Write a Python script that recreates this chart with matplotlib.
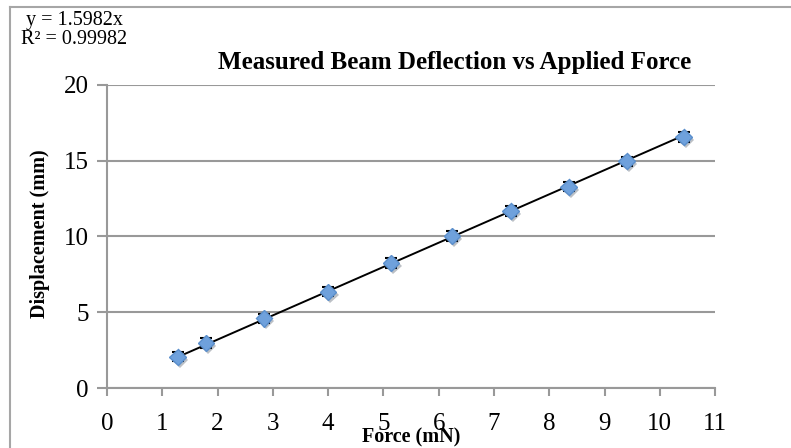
import matplotlib.pyplot as plt
import matplotlib.patheffects as pe
from matplotlib.lines import Line2D
import numpy as np

plt.rcParams["font.family"] = ["Liberation Serif", "DejaVu Serif"]

# measured force (mN) and beam displacement (mm)
force = [1.28, 1.79, 2.84, 4.00, 5.14, 6.24, 7.30, 8.35, 9.40, 10.43]
displacement = [2.05, 2.97, 4.60, 6.34, 8.25, 10.03, 11.68, 13.27, 14.98, 16.57]
disp_err = [0.3] * len(force)
slope = 1.5982
r_squared = 0.99982

fig = plt.figure(figsize=(7.91, 4.48), dpi=100)
ax = fig.add_axes([0.1353, 0.1339, 0.7687, 0.6764])

# outer chart frame
frame_col = "#a6a6a6"
fig.add_artist(Line2D([10 / 791, 1], [1 - 7 / 448, 1 - 7 / 448], transform=fig.transFigure,
                      color=frame_col, linewidth=1.5))
fig.add_artist(Line2D([10 / 791, 10 / 791], [0, 1 - 7 / 448], transform=fig.transFigure,
                      color=frame_col, linewidth=1.5))

# linear trendline through origin, over the data range
fx = np.array([min(force), max(force)])
ax.plot(fx, slope * fx, color="black", linewidth=1.4, zorder=3)

ax.errorbar(force, displacement, yerr=disp_err, fmt="none", ecolor="black",
            elinewidth=1.0, capsize=4, capthick=1.5, zorder=2)
ax.plot(force, displacement, linestyle="none", marker="D", markersize=8.5,
        markerfacecolor="#6fa1dc", markeredgecolor="#5b8fcc", zorder=4,
        path_effects=[pe.SimplePatchShadow(offset=(1.5, -2), alpha=0.3), pe.Normal()])

ax.set_xlim(0, 11)
ax.set_ylim(0, 20)
ax.set_xticks(np.arange(0, 12, 1))
ax.set_yticks(np.arange(0, 21, 5))
ax.yaxis.grid(True, color="#999999", linewidth=1.5)
ax.set_axisbelow(True)

for side in ["top", "right"]:
    ax.spines[side].set_visible(False)
for side in ["left", "bottom"]:
    ax.spines[side].set_color("#999999")
    ax.spines[side].set_linewidth(1.5)
ax.tick_params(axis="y", direction="out", length=7, width=1.5, color="#999999",
               labelsize=18, pad=6)
ax.tick_params(axis="x", direction="out", length=6, width=1.5, color="#999999",
               labelsize=18, pad=12)

ax.set_xlabel("Force (mN)", fontsize=14.5, fontweight="bold")
ax.xaxis.set_label_coords(0.5, -0.13)
ax.set_ylabel("Displacement (mm)", fontsize=14.5, fontweight="bold")
ax.yaxis.set_label_coords(-0.093, 0.51)
fig.text(0.575, 0.845, "Measured Beam Deflection vs Applied Force", fontsize=18,
         fontweight="bold", ha="center", va="baseline")

# trendline equation, top-left corner
fig.text(0.094, 0.933, f"y = {slope}x\nR² = {r_squared}", fontsize=14.5,
         ha="center", va="center", multialignment="center", linespacing=0.95)

fig.savefig("out.png", dpi=100)
